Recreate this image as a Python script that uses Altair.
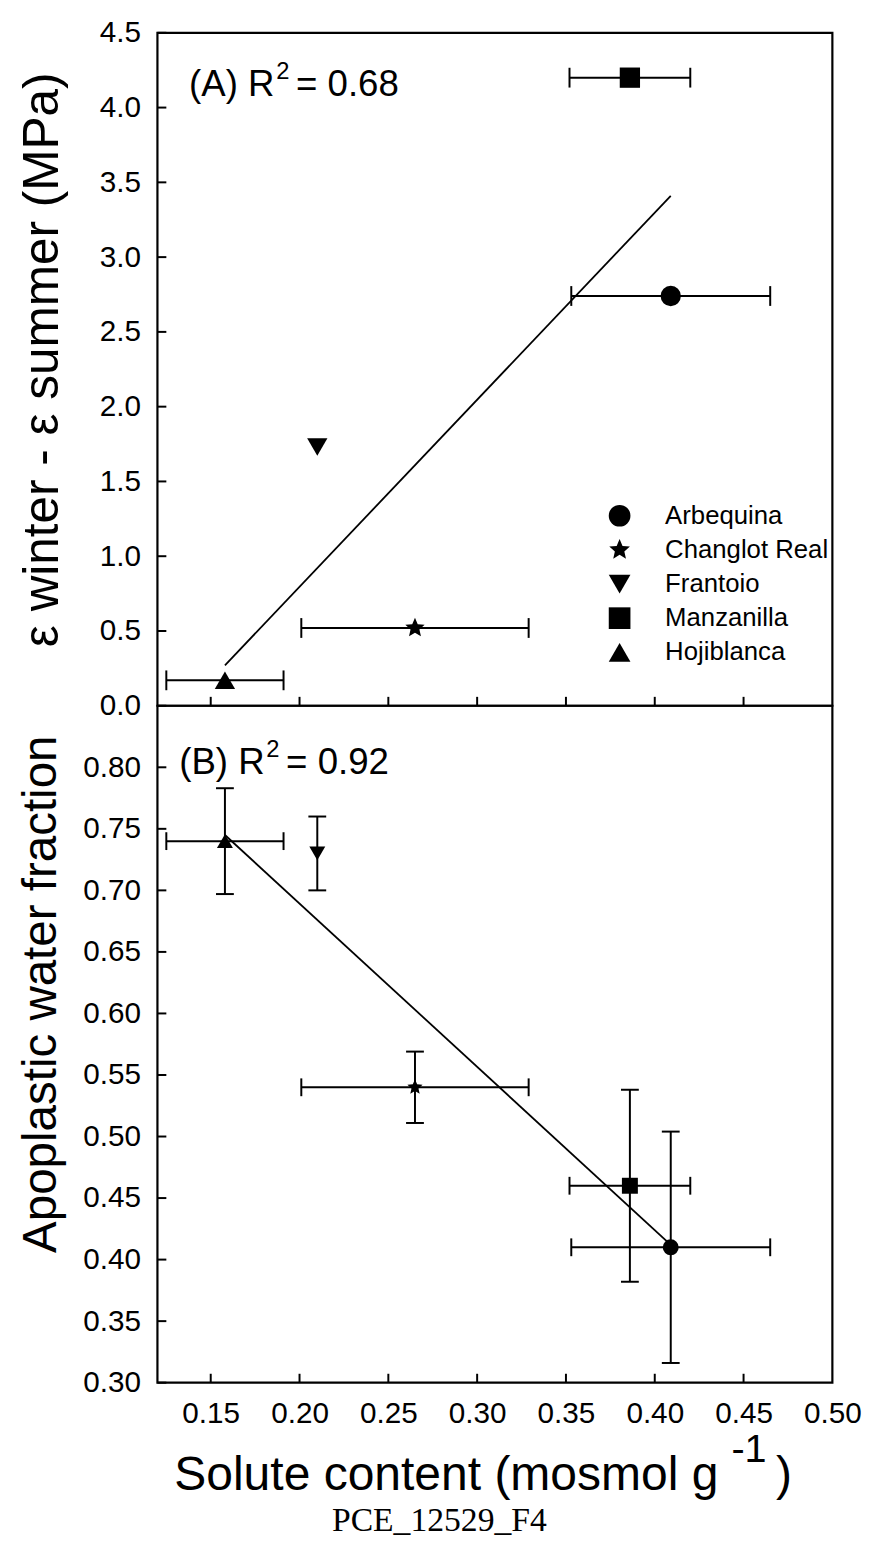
import altair as alt
import pandas as pd

# ---------------- data ----------------
cultivars = ["Arbequina", "Changlot Real", "Frantoio", "Manzanilla", "Hojiblanca"]
solute = [0.409, 0.265, 0.210, 0.386, 0.158]          # mosmol g-1
solute_err = [0.056, 0.064, 0.0, 0.034, 0.033]
eps_diff = [2.74, 0.52, 1.73, 4.20, 0.17]              # MPa (panel A)
eps_diff_err = [0.0, 0.0, 0.0, 0.0, 0.0]
apo_frac = [0.41, 0.54, 0.73, 0.46, 0.74]              # panel B
apo_frac_err = [0.094, 0.029, 0.030, 0.078, 0.043]

fit_a_x = [0.158, 0.409]
fit_a_y = [0.27, 3.41]
fit_b_x = [0.158, 0.409]
fit_b_y = [0.745, 0.412]

label_a = ["(A) R", "2", "= 0.68"]
label_b = ["(B) R", "2", "= 0.92"]
x_title = ["Solute content (mosmol g", "-1", ")"]

x_domain = [0.12, 0.50]
x_ticks = [0.15, 0.20, 0.25, 0.30, 0.35, 0.40, 0.45, 0.50]
a_domain = [0.0, 4.5]
a_ticks = [0.0, 0.5, 1.0, 1.5, 2.0, 2.5, 3.0, 3.5, 4.0, 4.5]
b_domain = [0.30, 0.85]
b_ticks = [0.30, 0.35, 0.40, 0.45, 0.50, 0.55, 0.60, 0.65, 0.70, 0.75, 0.80]

# ---------------- styles ----------------
FONT = "Liberation Sans, Arial, Helvetica, sans-serif"
STAR = ("M0,-1L0.27,-0.37L0.951,-0.309L0.437,0.142L0.588,0.809L0,0.46"
        "L-0.588,0.809L-0.437,0.142L-0.951,-0.309L-0.27,-0.37Z")
shapes = ["circle", STAR, "triangle-down", "square", "triangle-up"]
W = 682
TICK = 9


def text_layer(s, x, y, size):
    return alt.Chart(pd.DataFrame({"s": [s]})).mark_text(
        align="left", baseline="alphabetic", fontSize=size, font=FONT,
        color="black").encode(x=alt.value(x), y=alt.value(y), text="s:N")


def panel(yvals, yerrs, ydom, yticks, yfmt, h, psize, cap, label, lab_xy,
          ytitle, tsize, tpad, ty, legend, show_x, fit_x, fit_y):
    xs = alt.Scale(domain=x_domain, nice=False, zero=False)
    ys = alt.Scale(domain=ydom, nice=False, zero=False)
    df = pd.DataFrame({"cultivar": cultivars, "x": solute, "xerr": solute_err,
                       "y": yvals, "yerr": yerrs})
    df["xlo"] = df["x"] - df["xerr"]
    df["xhi"] = df["x"] + df["xerr"]
    df["ylo"] = df["y"] - df["yerr"]
    df["yhi"] = df["y"] + df["yerr"]

    yaxis = alt.Axis(values=yticks, format=yfmt, labelFontSize=30, labelFont=FONT,
                     labelColor="black", labelPadding=17, labelOverlap=False,
                     ticks=False, tickSize=0, domain=False, grid=False,
                     title=ytitle, titleFont=FONT, titleFontSize=tsize,
                     titleFontWeight="normal", titleColor="black",
                     titlePadding=tpad, titleY=ty)
    if show_x:
        xaxis = alt.Axis(values=x_ticks, format=".2f", labelFontSize=30, labelFont=FONT,
                         labelColor="black", labelPadding=16, labelFlush=False,
                         labelOverlap=False, ticks=False, tickSize=0, domain=False,
                         grid=False, title=None)
    else:
        xaxis = None

    def X(f):
        return alt.X(f, type="quantitative", scale=xs, axis=xaxis)

    def Y(f):
        return alt.Y(f, type="quantitative", scale=ys, axis=yaxis)

    layers = []
    dx = df[df["xerr"] > 0]
    if len(dx):
        layers.append(alt.Chart(dx).mark_rule(color="black", strokeWidth=2).encode(
            x=X("xlo"), x2="xhi:Q", y=Y("y")))
        caps = pd.concat([dx[["xlo", "y"]].rename(columns={"xlo": "xc"}),
                          dx[["xhi", "y"]].rename(columns={"xhi": "xc"})])
        layers.append(alt.Chart(caps).mark_rule(color="black", strokeWidth=2,
                                                yOffset=-cap / 2, y2Offset=cap / 2).encode(
            x=X("xc"), y=Y("y"), y2="y:Q"))
    dy = df[df["yerr"] > 0]
    if len(dy):
        layers.append(alt.Chart(dy).mark_rule(color="black", strokeWidth=2).encode(
            x=X("x"), y=Y("ylo"), y2="yhi:Q"))
        caps = pd.concat([dy[["x", "ylo"]].rename(columns={"ylo": "yc"}),
                          dy[["x", "yhi"]].rename(columns={"yhi": "yc"})])
        layers.append(alt.Chart(caps).mark_rule(color="black", strokeWidth=2,
                                                xOffset=-cap / 2, x2Offset=cap / 2).encode(
            x=X("x"), x2="x:Q", y=Y("yc")))

    fit = pd.DataFrame({"x": fit_x, "y": fit_y})
    layers.append(alt.Chart(fit).mark_line(color="black", strokeWidth=1.8).encode(
        x=X("x"), y=Y("y")))

    shape_enc = alt.Shape("cultivar:N", scale=alt.Scale(domain=cultivars, range=shapes),
                          legend=legend)
    layers.append(alt.Chart(df).mark_point(filled=True, size=psize, opacity=1,
                                           color="black").encode(
        x=X("x"), y=Y("y"), shape=shape_enc))

    # inward ticks
    yt = pd.DataFrame({"t": yticks})
    layers.append(alt.Chart(yt).mark_rule(color="black", strokeWidth=2).encode(
        y=Y("t"), x=alt.value(0), x2=alt.value(TICK)))
    xt = pd.DataFrame({"t": x_ticks[:-1]})
    layers.append(alt.Chart(xt).mark_rule(color="black", strokeWidth=2).encode(
        x=X("t"), y=alt.value(h), y2=alt.value(h - TICK)))

    # panel label with a real superscript
    lx, ly = lab_xy
    layers.append(text_layer(label[0], lx, ly, 37))
    layers.append(text_layer(label[1], lx + 88, ly - 17, 24))
    layers.append(text_layer(label[2], lx + 108, ly, 37))

    if show_x:
        layers.append(text_layer(x_title[0], 17, h + 108, 48.5))
        layers.append(text_layer(x_title[1], 580, h + 80, 40))
        layers.append(text_layer(x_title[2], 625, h + 108, 48.5))

    return alt.layer(*layers).properties(width=W, height=h)


legend_a = alt.Legend(title=None, orient="none", legendX=454, legendY=475,
                      symbolSize=480, symbolFillColor="black", symbolStrokeColor="black",
                      symbolStrokeWidth=0, labelFontSize=26, labelFont=FONT,
                      labelColor="black", labelOffset=33, labelLimit=400,
                      rowPadding=8.5, padding=0)

panel_a = panel(eps_diff, eps_diff_err, a_domain, a_ticks, ".1f", 680, 420, 20,
                label_a, (32, 64), "ε winter - ε summer (MPa)", 50, 32, 330,
                legend_a, False, fit_a_x, fit_a_y)
panel_b = panel(apo_frac, apo_frac_err, b_domain, b_ticks, ".2f", 684, 260, 18,
                label_b, (22, 69), "Apoplastic water fraction", 48, 18, 291,
                None, True, fit_b_x, fit_b_y)

chart = alt.vconcat(panel_a, panel_b, spacing=0, bounds="flush").resolve_scale(
    shape="independent").resolve_legend(shape="independent").properties(
    title=alt.TitleParams("PCE_12529_F4", orient="bottom", anchor="middle",
                          font="Liberation Serif, Times New Roman, serif",
                          fontSize=34, fontWeight="normal", color="black", offset=4),
    padding={"left": 8, "top": 0, "right": 5, "bottom": 2},
    background="white",
).configure_view(stroke="black", strokeWidth=2.2)

chart.save("out.html", embed_options={"renderer": "svg", "actions": False})
